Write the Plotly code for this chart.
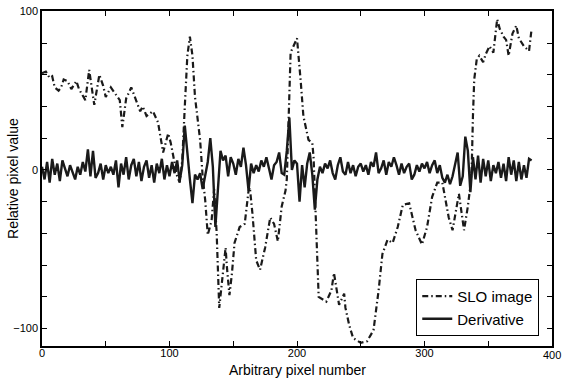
import plotly.graph_objects as go

# SLO image profile (x, value)
slo_x = [0, 3, 6, 8, 10, 13, 15, 17, 20, 23, 27, 29, 34, 37, 41, 45, 48, 50, 54, 58,
         61, 63, 66, 70, 73, 77, 79, 82, 87, 91, 95, 99, 101, 106, 108, 110, 112, 114, 116, 118,
         120, 121, 124, 126, 128, 130, 133, 135, 137, 139, 141, 144, 145, 147, 149, 151, 155, 159, 162, 163,
         165, 168, 171, 175, 179, 182, 185, 186, 188, 191, 192, 195, 197, 200, 203, 205, 209, 212, 213, 215,
         217, 221, 223, 227, 229, 233, 237, 238, 241, 244, 250, 255, 260, 264, 267, 271, 275, 279, 283, 288,
         293, 298, 302, 306, 310, 314, 319, 322, 327, 331, 334, 336, 337, 338, 339, 341, 343, 346, 348, 351,
         354, 355, 357, 359, 362, 364, 366, 369, 372, 374, 378, 382, 384]
slo_y = [61, 62, 58, 59, 52, 50, 52, 57, 56, 51, 56, 51, 44, 63, 41, 60, 53, 46, 52, 47,
         44, 27, 45, 52, 46, 37, 40, 34, 37, 30, 11, 23, 17, -4, -8, 6, 40, 72, 84, 72,
         46, 40, 19, -4, -19, -41, -32, -12, -40, -87, -70, -49, -61, -79, -65, -46, -36, -34, -13, -11,
         -27, -57, -63, -49, -30, -34, -45, -38, -23, -13, -6, 74, 78, 83, 55, 34, 19, 17, 8, -40,
         -80, -82, -83, -76, -65, -85, -78, -87, -98, -106, -109, -108, -101, -76, -53, -44, -46, -36, -22, -21,
         -38, -47, -36, -17, -8, -8, -30, -38, -15, -38, -23, -10, 0, 34, 57, 70, 72, 68, 73, 78,
         74, 81, 95, 89, 84, 82, 72, 86, 91, 83, 78, 75, 89]

# Derivative profile, sampled every 2 pixels
der_x = list(range(0, 386, 2))
der_y = [2, -6, 5, -8, 7, -3, 4, -7, 6, 1,
         -4, 3, -2, -6, 2, -3, 5, -1, 13, -4,
         12, -5, -2, 4, -6, 3, -2, 2, -3, 6,
         -11, 4, -3, 8, -6, 3, 7, -4, 5, -7,
         2, 6, -5, 3, -8, 4, -2, 7, -6, 3,
         -4, 5, -2, 6, -7, 3, 28, 9, -6, -21,
         -3, -6, -2, -12, -4, 5, 20, 2, -36, -10,
         12, 6, 9, -4, 8, 4, -3, 7, 2, 14,
         3, -13, 4, -2, 3, -1, 6, 2, 8, 1,
         -6, 3, 5, 11, -2, -3, 12, 33, 0, 6,
         4, -20, 3, -11, 4, 11, -3, -25, -6, 2,
         -2, 4, 1, 6, -2, -6, 3, 8, -1, -3,
         5, -2, 3, -4, 2, 4, -1, 3, -3, 5,
         2, 11, -2, 1, 6, -3, 5, 2, 8, 3,
         -3, 4, -2, 2, 4, -6, -3, 3, -1, 4,
         1, 5, -2, 3, 6, -2, 3, -5, -8, -3,
         -9, -4, 3, 11, -10, -4, 21, 12, -14, 8,
         -6, 9, -8, 7, -4, 6, -7, 3, -2, 5,
         -5, 4, -7, 8, -3, 6, -7, 5, -6, 3,
         -5, 7, 6]

x_tickvals = [0, 50, 100, 150, 200, 250, 300, 350, 400]
x_ticktext = ["0", "", "100", "", "200", "", "300", "", ""]
x_last_label = "400"
y_tickvals = [-100, -80, -60, -40, -20, 0, 20, 40, 60, 80, 100]
y_ticktext = ["\u2212100", "", "", "", "", "0", "", "", "", "", "100"]

FONT = "Liberation Sans, Arial, sans-serif"

fig = go.Figure()
fig.add_trace(go.Scatter(x=slo_x, y=slo_y, mode="lines", name="SLO image",
                         line=dict(color="#1a1a1a", width=2.2, dash="6px,3px,1.5px,3px")))
fig.add_trace(go.Scatter(x=der_x, y=der_y, mode="lines", name="Derivative",
                         line=dict(color="#1a1a1a", width=2.4)))

axis_common = dict(showgrid=False, zeroline=False, showline=True, linecolor="black",
                   linewidth=1.5, mirror="ticks", ticks="inside", ticklen=5,
                   tickcolor="black", tickwidth=1, automargin=False,
                   tickfont=dict(family=FONT, size=11, color="black"))

fig.update_layout(
    width=563, height=383,
    margin=dict(l=42, r=11, t=11, b=37),
    paper_bgcolor="white", plot_bgcolor="white",
    font=dict(family=FONT, color="black"),
    showlegend=True,
    legend=dict(x=0.975, y=0.03, xanchor="right", yanchor="bottom",
                bordercolor="black", borderwidth=1, bgcolor="white",
                font=dict(size=15), tracegroupgap=0),
    xaxis=dict(range=[0, 400], tickvals=x_tickvals, ticktext=x_ticktext,
               ticklabelstandoff=-4, **axis_common),
    yaxis=dict(range=[-111, 100.2], tickvals=y_tickvals, ticktext=y_ticktext, **axis_common),
    annotations=[
        dict(text=x_last_label, xref="paper", yref="paper", x=1.0, y=0, yshift=-1,
             xanchor="center", yanchor="top", showarrow=False,
             font=dict(size=11, family=FONT, color="black")),
        dict(text="Arbitrary pixel number", xref="paper", yref="paper", x=0.5, y=-0.042,
             xanchor="center", yanchor="top", showarrow=False, font=dict(size=14, family=FONT)),
        dict(text="Relative pixel value", xref="paper", yref="paper", x=-0.058, y=0.5,
             xanchor="center", yanchor="middle", textangle=-90, showarrow=False,
             font=dict(size=14, family=FONT)),
    ],
)

fig.write_html("out.html", config={"displayModeBar": False},
               post_script="document.body.style.margin='0';")
